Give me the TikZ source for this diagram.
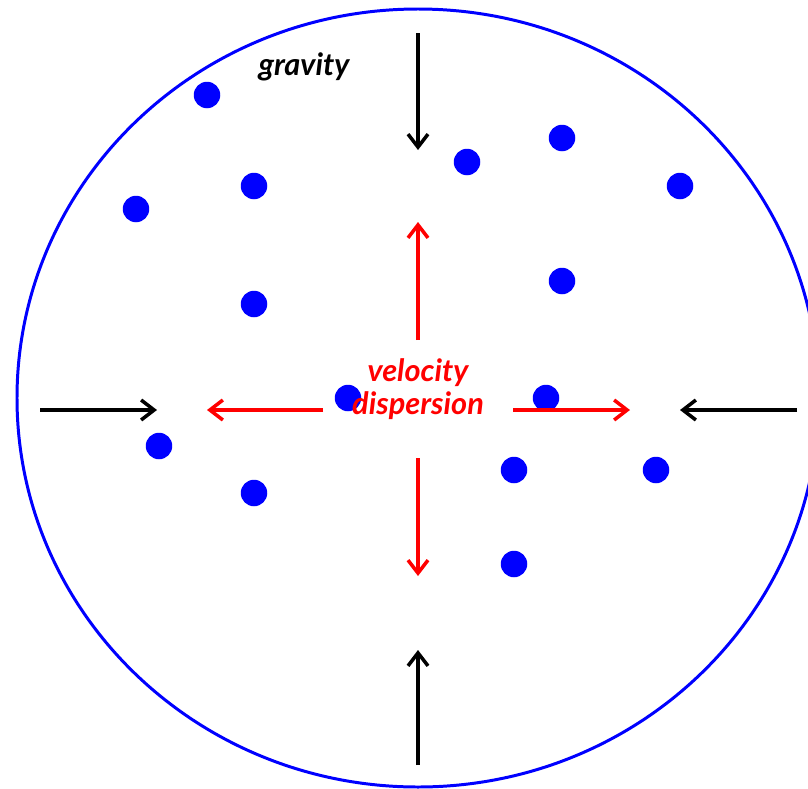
\documentclass[tikz,border=0pt]{standalone}
\usepackage{fontspec}
\setmainfont{Lato}
\usetikzlibrary{arrows.meta}
\definecolor{ringblue}{HTML}{0000FF}
\definecolor{dispred}{HTML}{FF0000}

\begin{document}
\begin{tikzpicture}[
  x=0.02cm, y=-0.02cm,
  star/.style={circle, fill=ringblue, inner sep=0pt, minimum size=0.53cm},
  pull/.style={-{Straight Barb[length=2.6mm, width=4mm]}, line width=2pt, black},
  push/.style={-{Straight Barb[length=2.6mm, width=4mm]}, line width=2pt, dispred},
  lbl/.style={font=\fontsize{17.5}{18.5}\selectfont\bfseries\itshape, inner sep=0pt}
]
\useasboundingbox (0,0) rectangle (808,788);
\draw[ringblue, line width=1.7pt] (418,398) ellipse [x radius=401, y radius=389];

% stars
\node[star] (s1) at (207,95) {};
\node[star] (s2) at (254,186) {};
\node[star] (s3) at (136,209) {};
\node[star] (s4) at (254,304) {};
\node[star] (s5) at (467,162) {};
\node[star] (s6) at (562,138) {};
\node[star] (s7) at (680,186) {};
\node[star] (s8) at (562,281) {};
\node[star] (s9) at (348,398) {};
\node[star] (s10) at (546,398) {};
\node[star] (s11) at (159,446) {};
\node[star] (s12) at (254,493) {};
\node[star] (s13) at (514,470) {};
\node[star] (s14) at (656,470) {};
\node[star] (s15) at (514,564) {};

% labels
\node[lbl] (grav) at (304,67) {gravity};
\node[lbl, dispred, align=center] (vdisp) at (418,389) {velocity\\dispersion};

% gravity arrows
\coordinate (gT0) at (418,33);  \coordinate (gT1) at (418,150);
\coordinate (gB0) at (418,765); \coordinate (gB1) at (418,650);
\coordinate (gL0) at (40,410);  \coordinate (gL1) at (157,410);
\coordinate (gR0) at (797,410); \coordinate (gR1) at (680,410);
\draw[pull] (gT0)--(gT1); \draw[pull] (gB0)--(gB1);
\draw[pull] (gL0)--(gL1); \draw[pull] (gR0)--(gR1);

% dispersion arrows
\coordinate (dU0) at (418,340); \coordinate (dU1) at (418,222);
\coordinate (dD0) at (418,458); \coordinate (dD1) at (418,576);
\coordinate (dL0) at (323,410); \coordinate (dL1) at (207,410);
\coordinate (dR0) at (513,410); \coordinate (dR1) at (630,410);
\draw[push] (dU0)--(dU1); \draw[push] (dD0)--(dD1);
\draw[push] (dL0)--(dL1); \draw[push] (dR0)--(dR1);
\end{tikzpicture}
\end{document}
